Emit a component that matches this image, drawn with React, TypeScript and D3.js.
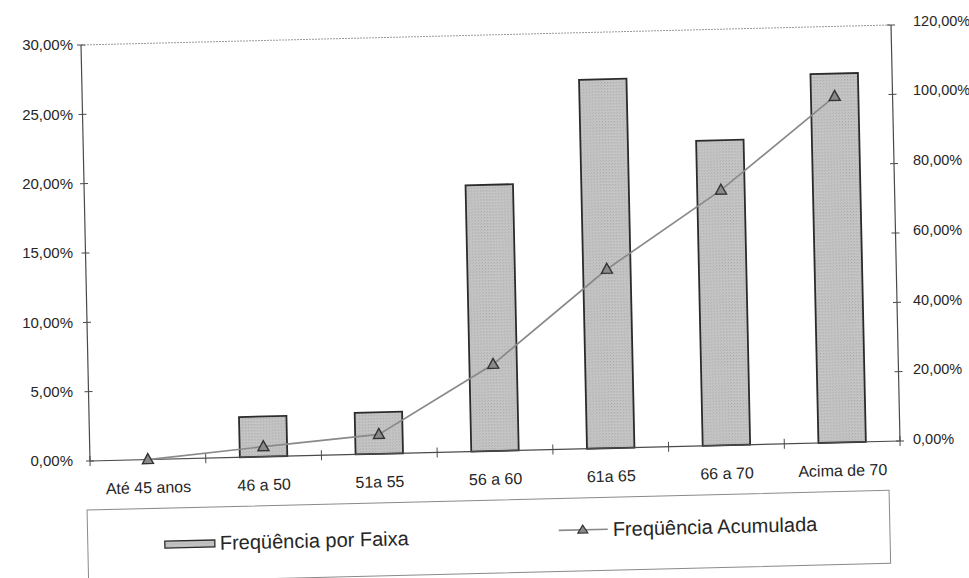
import React from "react";
import * as d3 from "d3";

const categories = ["Até 45 anos", "46 a 50", "51a 55", "56 a 60", "61a 65", "66 a 70", "Acima de 70"];
const freqPorFaixa = [0, 2.9, 3.0, 19.2, 26.6, 22.0, 26.6];
const freqAcumulada = [0, 2.9, 5.6, 25.0, 51.6, 73.6, 99.8];
const leftTicks = [0, 5, 10, 15, 20, 25, 30];
const rightTicks = [0, 20, 40, 60, 80, 100, 120];
const legendLabels = ["Freqüência por Faixa", "Freqüência Acumulada"];

const W = 969;
const H = 578;
const PW = 810;
const PH = 416;
// skew of the scanned page
const SX = 0.0216;
const SY = -0.0247;
const OX = 90;
const OY = 461;
const toScreen = (x: number, y: number) => ({ x: x + SX * y + OX, y: SY * x + y + OY });

const FONT = "'Liberation Sans', Arial, sans-serif";
const TEXT = "#262626";
const fmt = (v: number) => v.toFixed(2).replace(".", ",") + "%";

export default function App() {
  const x = d3.scaleBand<string>().domain(categories).range([0, PW]).paddingInner(0).paddingOuter(0);
  const yL = d3.scaleLinear().domain([0, 30]).range([0, -PH]);
  const yR = d3.scaleLinear().domain([0, 120]).range([0, -PH]);
  const bw = x.bandwidth() * 0.41;
  const cx = (c: string) => (x(c) as number) + x.bandwidth() / 2;

  const line = d3
    .line<number>()
    .x((_, i) => cx(categories[i]))
    .y((d) => yR(d));

  const tri = (w: number, h: number) => `M0,${-h * 0.6}L${w / 2},${h * 0.4}L${-w / 2},${h * 0.4}Z`;

  const boundaries = d3.range(categories.length + 1).map((i) => i * x.bandwidth());

  return (
    <svg
      width={W}
      height={H}
      viewBox={`0 0 ${W} ${H}`}
      style={{ position: "absolute", left: 0, top: 0, background: "#fff" }}
      fontFamily={FONT}
    >
      <defs>
        <pattern id="stip" width="3" height="3" patternUnits="userSpaceOnUse">
          <rect width="3" height="3" fill="#c6c6c6" />
          <rect x="0" y="0" width="1" height="1" fill="#a6a6a6" />
          <rect x="2" y="1" width="1" height="1" fill="#b2b2b2" />
        </pattern>
      </defs>
      <rect width={W} height={H} fill="#fff" />

      <g transform={`matrix(1,${SY},${SX},1,${OX},${OY})`}>
        {/* plot top border */}
        <line x1={0} x2={PW} y1={-PH} y2={-PH} stroke="#9a9a9a" strokeWidth={1} strokeDasharray="2,1" />
        {/* bars */}
        {categories.map((c, i) => (
          <rect
            key={c}
            x={cx(c) - bw / 2}
            y={yL(freqPorFaixa[i])}
            width={bw}
            height={yL(0) - yL(freqPorFaixa[i])}
            fill="url(#stip)"
            stroke="#2b2b2b"
            strokeWidth={1.8}
          />
        ))}
        {/* axes */}
        <line x1={0} x2={0} y1={0} y2={-PH} stroke="#4a4a4a" strokeWidth={1.2} />
        <line x1={PW} x2={PW} y1={0} y2={-PH} stroke="#4a4a4a" strokeWidth={1.2} />
        <line x1={0} x2={PW} y1={0} y2={0} stroke="#4a4a4a" strokeWidth={1.2} />
        {leftTicks.map((t) => (
          <line key={"lt" + t} x1={-4} x2={4} y1={yL(t)} y2={yL(t)} stroke="#4a4a4a" strokeWidth={1} />
        ))}
        {rightTicks.map((t) => (
          <line key={"rt" + t} x1={PW - 4} x2={PW + 4} y1={yR(t)} y2={yR(t)} stroke="#4a4a4a" strokeWidth={1} />
        ))}
        {boundaries.map((b, i) => (
          <line key={"xt" + i} x1={b} x2={b} y1={-5} y2={5} stroke="#4a4a4a" strokeWidth={1} />
        ))}
        {/* cumulative line */}
        <path d={line(freqAcumulada) || ""} fill="none" stroke="#8a8a8a" strokeWidth={1.7} />
        {freqAcumulada.map((v, i) => (
          <path
            key={"m" + i}
            d={tri(11, 10)}
            transform={`translate(${cx(categories[i])},${yR(v)})`}
            fill="#8a8a8a"
            stroke="#333"
            strokeWidth={1.4}
          />
        ))}
        {/* category labels */}
        {categories.map((c) => (
          <text key={"cl" + c} x={cx(c)} y={28} dy="0.35em" textAnchor="middle" fontSize={16} fill={TEXT}>
            {c}
          </text>
        ))}
        {/* legend */}
        <rect x={-4} y={49} width={802} height={73} fill="none" stroke="#8a8a8a" strokeWidth={1} />
        <rect x={73} y={82} width={50} height={7} fill="url(#stip)" stroke="#2b2b2b" strokeWidth={1.3} />
        <text x={128} y={85} dy="0.35em" fontSize={20} fill={TEXT}>
          {legendLabels[0]}
        </text>
        <line x1={467} x2={516} y1={81} y2={81} stroke="#8a8a8a" strokeWidth={1.7} />
        <path d={tri(10, 8)} transform="translate(491,81)" fill="#8a8a8a" stroke="#333" strokeWidth={1.2} />
        <text x={521} y={81} dy="0.35em" fontSize={20} fill={TEXT}>
          {legendLabels[1]}
        </text>
      </g>

      {/* y-axis labels (upright in the scan) */}
      {leftTicks.map((t) => (
        <text
          key={"ll" + t}
          x={73}
          y={toScreen(0, yL(t)).y}
          dy="0.35em"
          textAnchor="end"
          fontSize={15}
          fill={TEXT}
        >
          {fmt(t)}
        </text>
      ))}
      {rightTicks.map((t) => (
        <text key={"rl" + t} x={913} y={toScreen(PW, yR(t)).y - 2 - t * 0.02} dy="0.35em" fontSize={14.5} fill={TEXT}>
          {fmt(t)}
        </text>
      ))}
    </svg>
  );
}
